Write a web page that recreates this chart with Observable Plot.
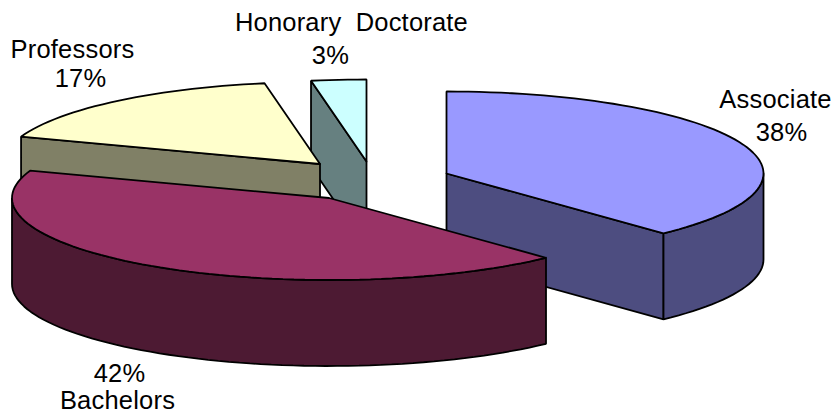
<!DOCTYPE html>
<html>
<head>
<meta charset="utf-8">
<style>
html,body{margin:0;padding:0;background:#fff}
svg{display:block}
</style>
<script src="https://cdn.jsdelivr.net/npm/d3@7"></script>
<script src="https://cdn.jsdelivr.net/npm/@observablehq/plot@0.6"></script>
</head>
<body>
<div id="chart"></div>
<script>
// Data
const categories = ["Associate", "Bachelors", "Professors", "Honorary Doctorate"];
const shares = [38, 42.4, 16.8, 2.8];
const topColors = ["#9999FF", "#993366", "#FFFFCC", "#CCFFFF"];
const sideColors = ["#4D4D80", "#4D1A33", "#808066", "#668080"];

// 3D pie layout: each exploded slice has its own centre in picture units
const centres = [[446, 173], [328.5, 197.5], [319.5, 163.5], [366, 161]];
const radiusX = 317, radiusY = 82, depth = 86;
// label offsets from the middle of each slice's rim: [name dx, name dy, pct dx, pct dy]
const labelOffsets = [
  [34.3, -35.8, 40.3, -2.8],
  [-38.3, 142.8, -36.3, 115.8],
  [-42.4, -43, -34.4, -14],
  [12.8, -49.3, -8.2, -16.3]
];
const fontSize = 25.5;

const rad = d => d * Math.PI / 180;
const total = d3.sum(shares);
let cum = 0;
const slices = shares.map((v, i) => {
  const a0 = cum / total * 360;
  cum += v;
  return {i, a0, a1: cum / total * 360, c: centres[i]};
});
const rimPoint = (s, a, dz = 0) => ({
  x: s.c[0] + radiusX * Math.sin(rad(a)),
  y: s.c[1] - radiusY * Math.cos(rad(a)) + dz
});
const arcAngles = (a0, a1) => {
  const n = Math.max(1, Math.ceil((a1 - a0) / 2));
  return d3.range(n + 1).map(k => a0 + (a1 - a0) * k / n);
};
const close = pts => [...pts, pts[0]];

// walls first, then lids; back slices before front ones
const paintOrder = [3, 2, 0, 1];
const polygons = [];
for (const i of paintOrder) {
  const s = slices[i];
  const apex = {x: s.c[0], y: s.c[1]};
  const apexLow = {x: s.c[0], y: s.c[1] + depth};
  // flat cut faces, if they look towards the viewer
  for (const [a, n] of [[s.a0, s.a0 - 90], [s.a1, s.a1 + 90]]) {
    if (Math.cos(rad(n)) < -1e-6) {
      polygons.push({fill: sideColors[i], points: close([apex, rimPoint(s, a), rimPoint(s, a, depth), apexLow])});
    }
  }
  // curved outer wall: only the front half of the ellipse
  const w0 = Math.max(s.a0, 90), w1 = Math.min(s.a1, 270);
  if (w1 > w0) {
    const as = arcAngles(w0, w1);
    polygons.push({fill: sideColors[i], points: close([
      ...as.map(a => rimPoint(s, a)),
      ...as.slice().reverse().map(a => rimPoint(s, a, depth))
    ])});
  }
  // lid
  polygons.push({fill: topColors[i], points: close([apex, ...arcAngles(s.a0, s.a1).map(a => rimPoint(s, a))])});
}

const labels = slices.flatMap(s => {
  const m = rimPoint(s, (s.a0 + s.a1) / 2);
  const o = labelOffsets[s.i];
  return [
    {text: categories[s.i], x: m.x + o[0], y: m.y + o[1]},
    {text: Math.round(shares[s.i]) + "%", x: m.x + o[2], y: m.y + o[3]}
  ];
});

const plot = Plot.plot({
  width: 837,
  height: 413,
  margin: 0,
  x: {domain: [0, 837], range: [0, 837], axis: null},
  y: {domain: [0, 413], range: [0, 413], axis: null},
  style: {background: "#fff", fontFamily: "'Liberation Sans', Arial, sans-serif", letterSpacing: "0.2px", wordSpacing: "7px"},
  marks: [
    ...polygons.map(p => Plot.line(p.points, {
      x: "x", y: "y", fill: p.fill, stroke: "#000", strokeWidth: 1.8, strokeLinejoin: "miter"
    })),
    Plot.text(labels, {
      x: "x", y: "y", text: "text", fontSize, fill: "#000",
      textAnchor: "middle", lineAnchor: "bottom"
    })
  ]
});
document.getElementById("chart").append(plot);
</script>
</body>
</html>
